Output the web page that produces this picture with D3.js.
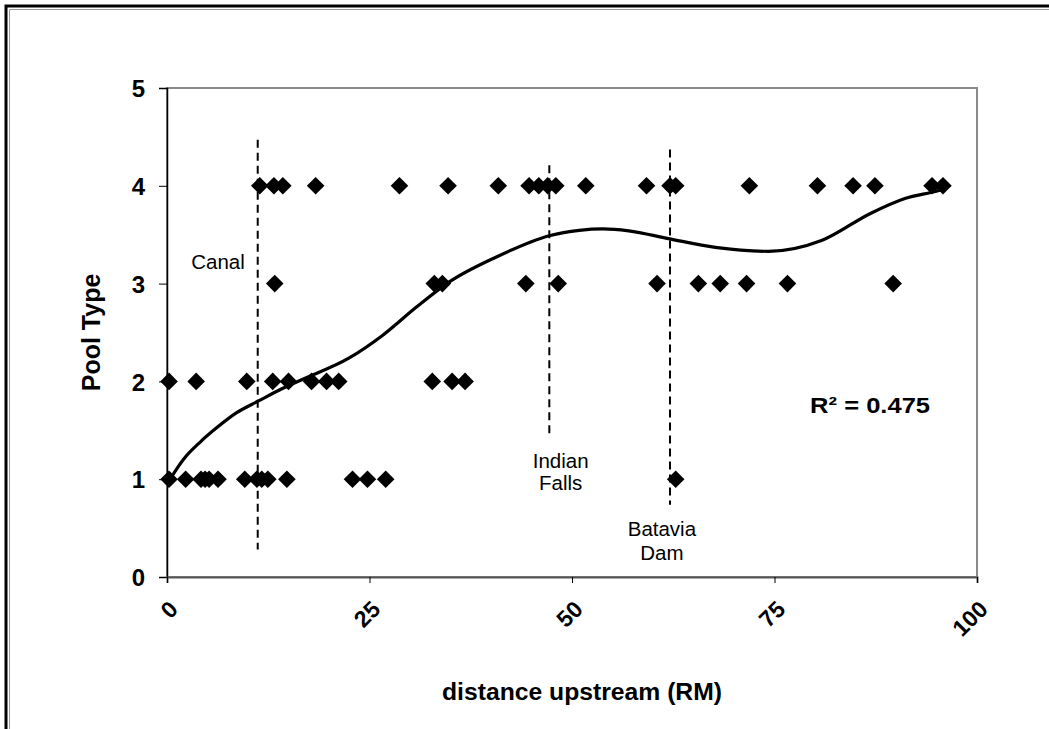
<!DOCTYPE html>
<html><head><meta charset="utf-8">
<script src="https://cdn.jsdelivr.net/npm/d3@7"></script>
<style>
body{margin:0;background:#fff}
svg{display:block}
text{font-family:"Liberation Sans",Arial,Helvetica,sans-serif;fill:#000}
</style>
</head><body>
<svg id="chart" width="1049" height="729"></svg>
<script>
// ---- data (distance upstream in river miles, grouped by pool type) ----
const poolTypes = [1, 2, 3, 4];
const pool1Dist = [0.25, 2.3, 4.2, 4.7, 5.2, 6.3, 9.6, 11.1, 11.7, 12.45, 14.8, 22.9, 24.75, 27.0, 62.8];
const pool2Dist = [0.25, 3.6, 9.85, 13.05, 15.0, 17.85, 19.7, 21.2, 32.75, 35.2, 36.8];
const pool3Dist = [13.3, 33.0, 34.0, 44.3, 48.3, 60.5, 65.6, 68.3, 71.55, 76.6, 89.65];
const pool4Dist = [11.45, 13.2, 14.3, 18.35, 28.7, 34.7, 40.9, 44.7, 45.9, 47.0, 48.0, 51.7, 59.2, 62.1, 62.8, 71.9, 80.3, 84.7, 87.4, 94.45, 95.8];

// polynomial trend line
const trendDist = [0, 2.0, 4.1, 6.2, 8.6, 11.3, 14.3, 16.7, 22.5, 26.6, 30.8, 34.9, 40.6, 47.2, 50.9, 53.8, 57.0, 61.9, 67.7, 74.3, 80.8, 86.9, 91.1, 95.2, 96.0];
const trendPool = [0.95, 1.2, 1.38, 1.53, 1.68, 1.80, 1.93, 2.02, 2.24, 2.47, 2.76, 3.02, 3.27, 3.49, 3.545, 3.56, 3.54, 3.46, 3.37, 3.33, 3.44, 3.72, 3.87, 3.95, 3.97];

// barriers (dashed reference lines)
const barrierNames = [["Canal"], ["Indian", "Falls"], ["Batavia", "Dam"]];
const barrierDist = [11.2, 47.2, 62.1];
const barrierTop = [4.47, 4.21, 4.37];
const barrierBottom = [0.28, 1.44, 0.74];

const xTicks = [0, 25, 50, 75, 100];
const yTicks = [0, 1, 2, 3, 4, 5];
const r2Label = "R² = 0.475";
const xTitle = "distance upstream (RM)";
const yTitle = "Pool Type";

// ---- layout ----
const svg = d3.select("#chart");
const L = 167, R = 977, T = 88, B = 577;
const x = d3.scaleLinear().domain([0, 100]).range([L, R]);
const y = d3.scaleLinear().domain([0, 5]).range([B, T]);

function fitWidth(sel, w) {
  sel.attr("textLength", w).attr("lengthAdjust", "spacingAndGlyphs");
  return sel;
}

// outer frame (double line top & left)
svg.append("rect").attr("x", 6).attr("y", 6).attr("width", 1060).attr("height", 760)
  .attr("fill", "none").attr("stroke", "#000").attr("stroke-width", 3);
svg.append("path").attr("d", "M9.5,760 V9.5 H1060").attr("fill", "none").attr("stroke", "#999").attr("stroke-width", 1);

// plot area border
svg.append("rect").attr("x", L).attr("y", T).attr("width", R - L).attr("height", B - T)
  .attr("fill", "none").attr("stroke", "#8a8a8a").attr("stroke-width", 2);

// axes
const yAxis = d3.axisLeft(y).tickValues(yTicks).tickSize(8).tickPadding(14).tickFormat(d3.format("d"));
const gy = svg.append("g").attr("transform", `translate(${L},0)`).call(yAxis);
gy.select(".domain").attr("stroke", "#000").attr("stroke-width", 1.5);
gy.selectAll(".tick line").attr("stroke", "#000").attr("stroke-width", 1);
gy.selectAll(".tick text").attr("font-size", 24).attr("font-weight", "bold")
  .attr("font-family", "Liberation Sans, Arial, sans-serif").attr("dy", "0.36em");

const xAxis = d3.axisBottom(x).tickValues(xTicks).tickSize(6).tickFormat(d3.format("d"));
const gx = svg.append("g").attr("transform", `translate(0,${B})`).call(xAxis);
gx.select(".domain").attr("stroke", "#555").attr("stroke-width", 2);
gx.selectAll(".tick line").attr("stroke", "#000").attr("stroke-width", 1);
gx.selectAll(".tick text").attr("font-size", 23).attr("font-weight", "bold")
  .attr("font-family", "Liberation Sans, Arial, sans-serif")
  .attr("text-anchor", "end").attr("dy", "0.35em").attr("y", 0)
  .attr("transform", "translate(6,28) rotate(-45)");

// axis titles
fitWidth(svg.append("text").attr("x", 582).attr("y", 700).attr("text-anchor", "middle")
  .attr("font-size", 23).attr("font-weight", "bold").text(xTitle), 280);
svg.append("text").attr("transform", `translate(100,${(T + B) / 2}) rotate(-90)`)
  .attr("text-anchor", "middle").attr("font-size", 25).attr("font-weight", "bold").text(yTitle);

// dashed barrier lines
svg.append("g").selectAll("line").data(barrierDist).join("line")
  .attr("x1", d => x(d)).attr("x2", d => x(d))
  .attr("y1", (d, i) => y(barrierTop[i])).attr("y2", (d, i) => y(barrierBottom[i]))
  .attr("stroke", "#000").attr("stroke-width", 2).attr("stroke-dasharray", "8,5");

// trend line
const line = d3.line().x(d => x(d[0])).y(d => y(d[1])).curve(d3.curveMonotoneX);
svg.append("path").datum(trendDist.map((d, i) => [d, trendPool[i]]))
  .attr("d", line).attr("fill", "none").attr("stroke", "#000").attr("stroke-width", 3.2);

// points
const pts = [];
[pool1Dist, pool2Dist, pool3Dist, pool4Dist].forEach((arr, k) => arr.forEach(d => pts.push([d, poolTypes[k]])));
const s = 8.8;
svg.append("g").selectAll("path").data(pts).join("path")
  .attr("d", d => { const cx = x(d[0]), cy = y(d[1]); return `M${cx},${cy - s}L${cx + s},${cy}L${cx},${cy + s}L${cx - s},${cy}Z`; })
  .attr("fill", "#000");

// annotations
const ann = svg.append("g").attr("font-size", 20.5);
const annPos = [[[6.3, 3.22]], [[48.6, 1.19], [48.6, 0.96]], [[61.1, 0.49], [61.1, 0.245]]];
barrierNames.forEach((lines, i) => lines.forEach((t, j) => {
  ann.append("text").attr("x", x(annPos[i][j][0])).attr("y", y(annPos[i][j][1]))
    .attr("dy", "0.36em").attr("text-anchor", "middle").text(t);
}));

fitWidth(svg.append("text").attr("x", x(86.8)).attr("y", y(1.76)).attr("dy", "0.36em").attr("text-anchor", "middle")
  .attr("font-size", 22).attr("font-weight", "bold").text(r2Label), 120);
</script>
</body></html>
